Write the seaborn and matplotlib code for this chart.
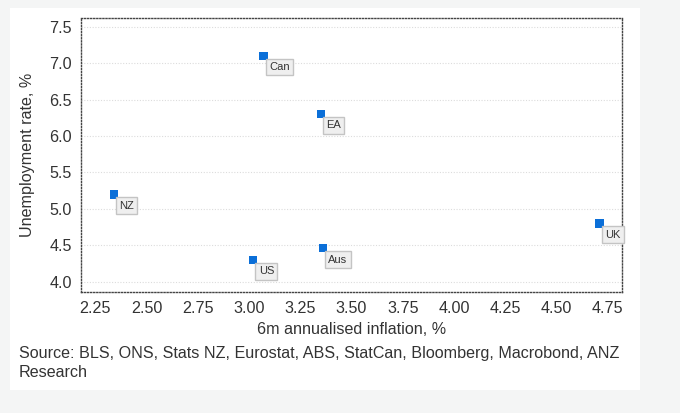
import matplotlib
matplotlib.use("Agg")
import matplotlib.pyplot as plt
import seaborn as sns
import pandas as pd

# Dados
paises = ["Can", "EA", "NZ", "US", "Aus", "UK"]
inflacao = [3.07, 3.35, 2.34, 3.02, 3.36, 4.71]
desemprego = [7.1, 6.3, 5.2, 4.3, 4.46, 4.8]

x_ticks = [2.25, 2.50, 2.75, 3.00, 3.25, 3.50, 3.75, 4.00, 4.25, 4.50, 4.75]
y_ticks = [4.0, 4.5, 5.0, 5.5, 6.0, 6.5, 7.0, 7.5]

fonte = "Source: BLS, ONS, Stats NZ, Eurostat, ABS, StatCan, Bloomberg, Macrobond, ANZ\nResearch"

df = pd.DataFrame({"pais": paises, "inflacao": inflacao, "desemprego": desemprego})

sns.set_style("white")
plt.rcParams["font.family"] = ["Liberation Sans", "DejaVu Sans"]

fig = plt.figure(figsize=(6.8, 4.13), dpi=100)
fig.patch.set_facecolor("#f4f5f5")

# cartão branco atrás do gráfico
card = plt.Rectangle((10 / 680, 1 - 390 / 413), 630 / 680, 382 / 413,
                     transform=fig.transFigure, facecolor="white",
                     edgecolor="none", zorder=-10)
fig.patches.append(card)

ax = fig.add_axes([81 / 680, 1 - 292 / 413, 541 / 680, 274 / 413])
ax.set_zorder(1)
ax.set_facecolor("white")

sns.scatterplot(data=df, x="inflacao", y="desemprego", ax=ax, marker="s",
                s=36, color="#0b6fd8", edgecolor="none", zorder=3)

for _, r in df.iterrows():
    ax.annotate(r["pais"], (r["inflacao"], r["desemprego"]),
                xytext=(4, -4.5), textcoords="offset points", ha="left", va="top",
                fontsize=8, color="#333333", zorder=4,
                bbox=dict(boxstyle="square,pad=0.3", facecolor="#efefef",
                          edgecolor="#c4c4c4", linewidth=1.0))

ax.set_xlim(2.18, 4.82)
ax.set_ylim(3.86, 7.62)
ax.set_xticks(x_ticks)
ax.set_xticklabels([f"{v:.2f}" for v in x_ticks])
ax.set_yticks(y_ticks)
ax.set_yticklabels([f"{v:.1f}" for v in y_ticks])

ax.grid(axis="y", color="#dcdcdc", linestyle=(0, (1, 1.5)), linewidth=0.8)
ax.grid(axis="x", visible=False)
ax.set_axisbelow(True)

for sp in ax.spines.values():
    sp.set_visible(True)
    sp.set_color("#444444")
    sp.set_linestyle((0, (0.8, 1.4)))
    sp.set_linewidth(1.0)

ax.tick_params(axis="both", labelsize=11.6, colors="#333333", length=3,
               width=0.8, direction="out")
ax.tick_params(axis="both", color="#999999")

ax.set_xlabel("6m annualised inflation, %", fontsize=11.6, color="#333333", labelpad=4)
ax.set_ylabel("Unemployment rate, %", fontsize=11.6, color="#333333", labelpad=10)

fig.text(19 / 680, 1 - 363 / 413, fonte, fontsize=11.6, color="#333333",
         va="center", ha="left", linespacing=1.3)

fig.savefig("out.png", dpi=100, facecolor=fig.get_facecolor())
